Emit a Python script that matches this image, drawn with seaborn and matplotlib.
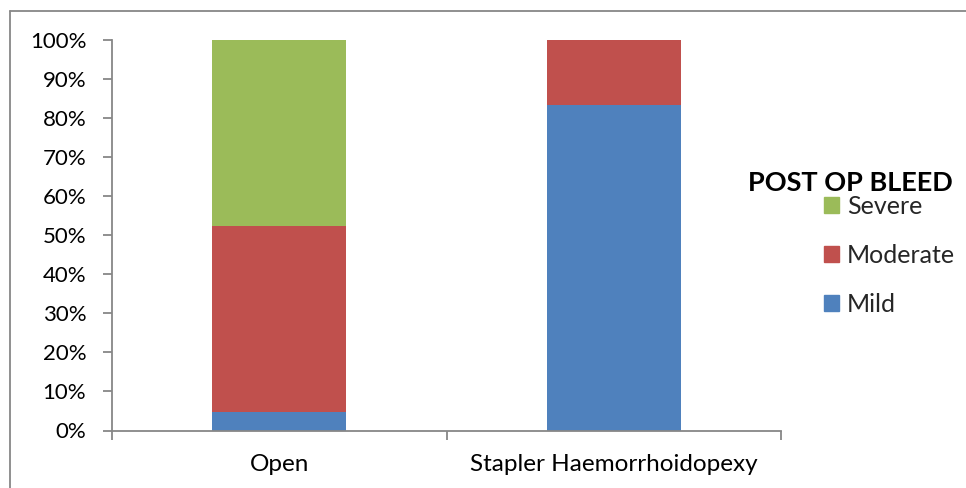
import matplotlib
matplotlib.use("Agg")
import matplotlib.pyplot as plt
import matplotlib.patches as mpatches
from matplotlib.lines import Line2D
import seaborn as sns
import pandas as pd
import numpy as np

categories = ["Open", "Stapler Haemorrhoidopexy"]
mild = [4.76, 83.33]
moderate = [47.62, 16.67]
severe = [47.62, 0.0]
series_names = ["Severe", "Moderate", "Mild"]
colors = {"Mild": "#4F81BD", "Moderate": "#C0504D", "Severe": "#9BBB59"}
yticks = [0, 10, 20, 30, 40, 50, 60, 70, 80, 90, 100]
ytick_labels = [f"{v}%" for v in yticks]

sns.set_theme(style="white")
plt.rcParams["font.family"] = ["Lato", "DejaVu Sans"]

fig = plt.figure(figsize=(9.66, 4.88), dpi=100)
ax = fig.add_axes([112/966, 1-430.5/488, (781-112)/966, (430.5-40)/488])

df = pd.DataFrame({"cat": categories,
                   "Mild": mild,
                   "Moderate": moderate,
                   "Severe": severe})
df["cum_mild"] = df["Mild"]
df["cum_mod"] = df["Mild"] + df["Moderate"]
df["cum_sev"] = df["cum_mod"] + df["Severe"]

for col, name in [("cum_sev", "Severe"), ("cum_mod", "Moderate"), ("cum_mild", "Mild")]:
    sns.barplot(data=df, x="cat", y=col, order=categories, color=colors[name],
                width=0.4, ax=ax, saturation=1, linewidth=0)

ax.set_xlim(-0.5, 1.5)
ax.set_ylim(0, 100)
ax.set_xlabel("")
ax.set_ylabel("")
ax.set_yticks(yticks)
ax.set_yticklabels(ytick_labels)
ax.set_xticks([0, 1])
ax.set_xticklabels(categories)
ax.set_xticks([-0.5, 0.5, 1.5], minor=True)

gray = "#878787"
for s in ["top", "right"]:
    ax.spines[s].set_visible(False)
for s in ["left", "bottom"]:
    ax.spines[s].set_color(gray)
    ax.spines[s].set_linewidth(1.3)
ax.tick_params(axis="y", which="major", length=6.5, width=1.3, color=gray,
               direction="out", left=True, labelsize=16, pad=12, labelcolor="black")
ax.tick_params(axis="x", which="major", length=0, labelsize=17.5, pad=17, labelcolor="black")
ax.tick_params(axis="x", which="minor", length=6.5, width=1.3, color=gray,
               direction="out", bottom=True)

# legend title
fig.text(953/966, 1-183/488, "POST OP BLEED", ha="right", va="center",
         fontsize=19.5, fontweight="bold", color="black")

handles = [mpatches.Patch(color=colors[n], label=n) for n in series_names]
leg = fig.legend(handles=handles, labels=series_names,
                 loc="upper right", bbox_to_anchor=(955/966, 1-195/488),
                 bbox_transform=fig.transFigure, frameon=False,
                 fontsize=18, handlelength=0.6, handleheight=0.6,
                 handletextpad=0.3, labelspacing=1.03, borderpad=0, borderaxespad=0)

# outer chart border (top and left visible)
fig.add_artist(Line2D([10/966, 1], [1-10.5/488, 1-10.5/488], color=gray,
                      linewidth=1.3, transform=fig.transFigure))
fig.add_artist(Line2D([10/966, 10/966], [0, 1-10.5/488], color=gray,
                      linewidth=1.3, transform=fig.transFigure))

fig.savefig("out.png", dpi=100)
